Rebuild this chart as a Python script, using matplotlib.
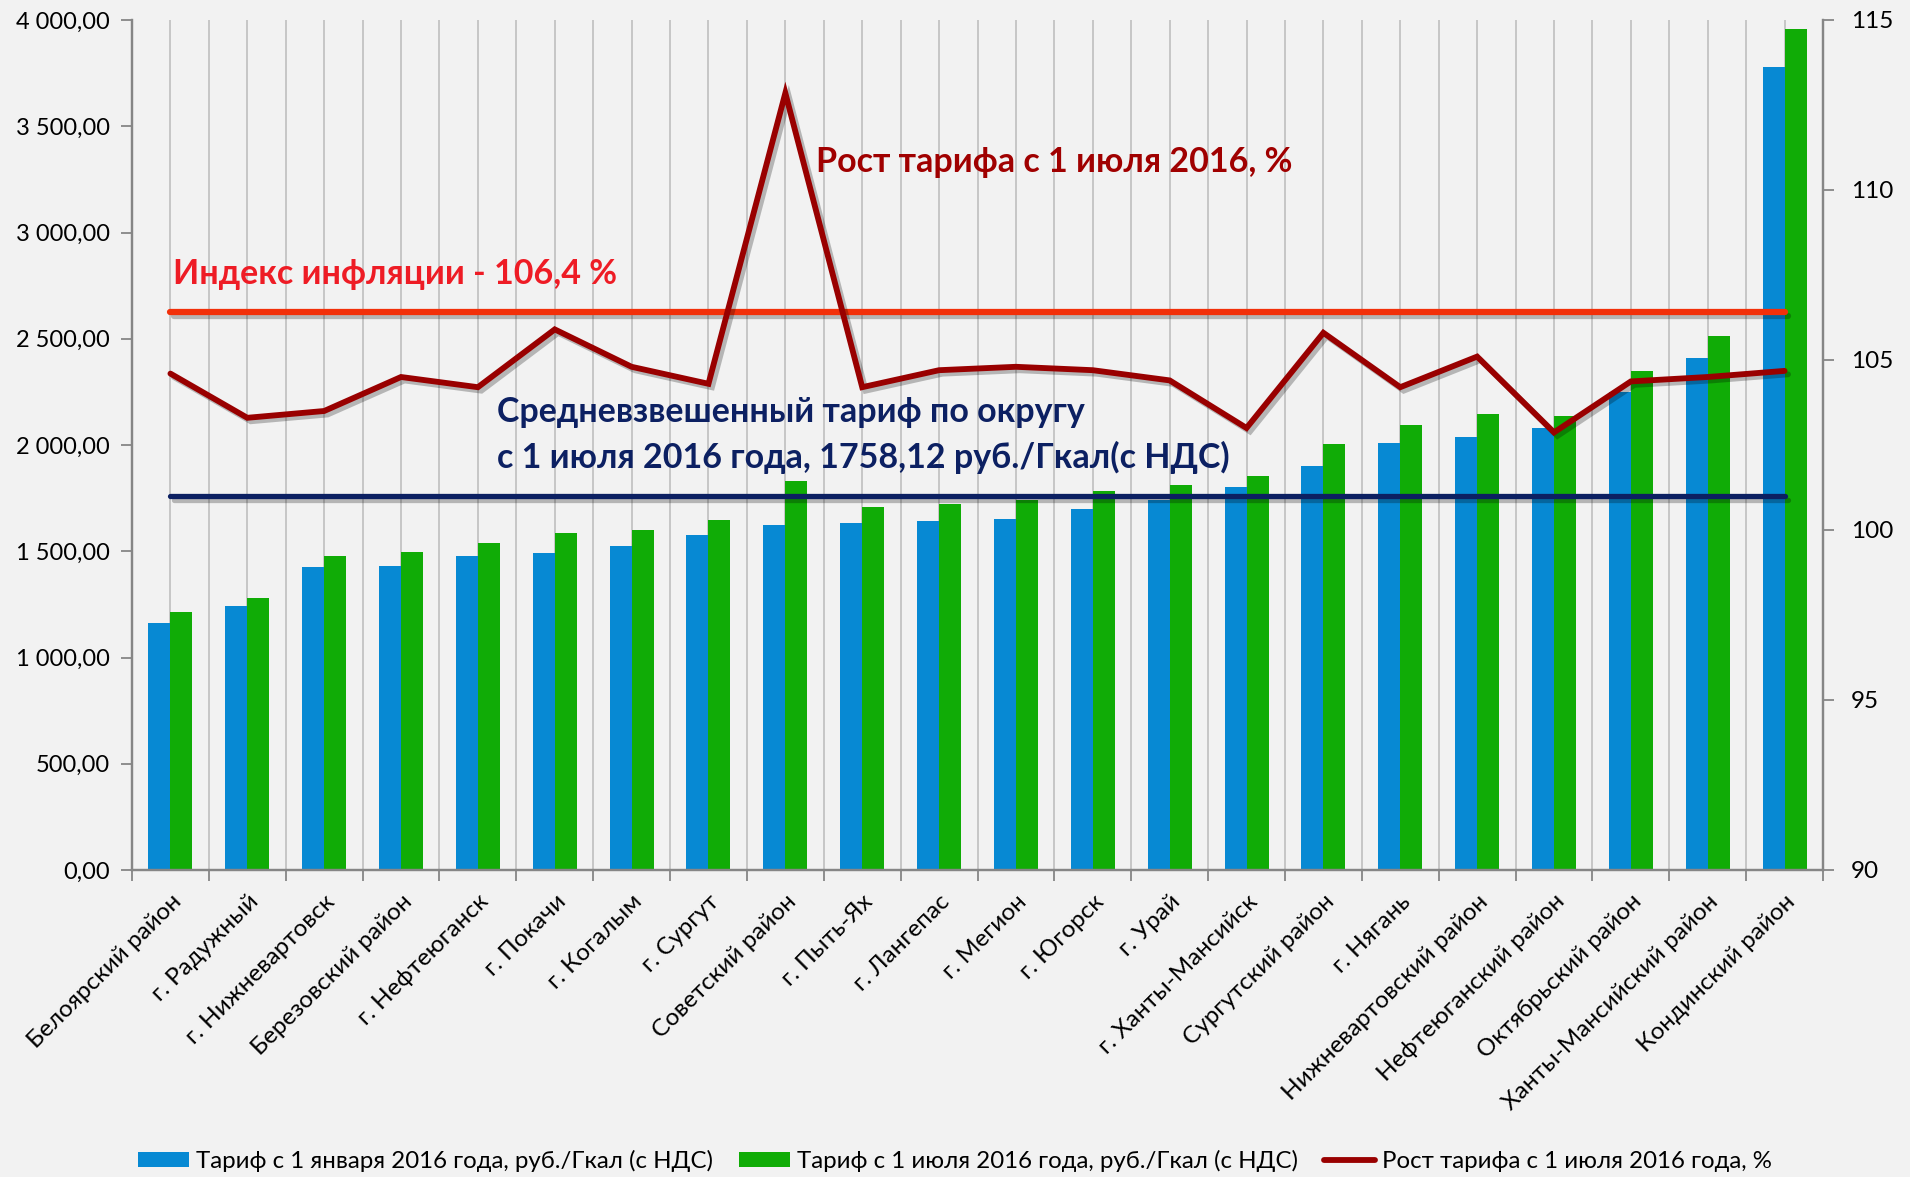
#!/usr/bin/env python3
"""Heat tariffs by municipality: Jan vs Jul 2016, with tariff growth line."""

import os

os.environ.setdefault("MPLCONFIGDIR", "/tmp/matplotlib")

import matplotlib

matplotlib.use("Agg")
import matplotlib.pyplot as plt
import matplotlib.patheffects as pe
from matplotlib.lines import Line2D
from matplotlib.patches import Patch
from matplotlib.ticker import FixedLocator, FuncFormatter, MultipleLocator
import numpy as np

CATEGORIES = [
    "Белоярский район", "г. Радужный", "г. Нижневартовск", "Березовский район",
    "г. Нефтеюганск", "г. Покачи", "г. Когалым", "г. Сургут", "Советский район",
    "г. Пыть-Ях", "г. Лангепас", "г. Мегион", "г. Югорск", "г. Урай",
    "г. Ханты-Мансийск", "Сургутский район", "г. Нягань", "Нижневартовский район",
    "Нефтеюганский район", "Октябрьский район", "Ханты-Мансийский район",
    "Кондинский район",
]
TARIFF_JAN = [1162, 1241, 1426, 1431, 1476, 1492, 1527, 1578, 1624, 1635, 1641,
              1653, 1699, 1739, 1802, 1900, 2009, 2038, 2080, 2251, 2408, 3780]
TARIFF_JUL = [1215, 1281, 1476, 1495, 1537, 1584, 1601, 1647, 1831, 1710, 1722,
              1739, 1785, 1813, 1854, 2003, 2094, 2145, 2137, 2348, 2514, 3958]
GROWTH = [104.6, 103.3, 103.5, 104.5, 104.2, 105.9, 104.8, 104.3, 112.85, 104.2, 104.7,
          104.8, 104.7, 104.4, 103.0, 105.8, 104.2, 105.1, 102.87, 104.37, 104.5, 104.68]
INFLATION = 106.4
AVG_TARIFF = 1758.12

LEGEND_LABELS = [
    "Тариф с 1 января 2016 года, руб./Гкал (с НДС)",
    "Тариф с 1 июля 2016 года, руб./Гкал (с НДС)",
    "Рост тарифа с 1 июля 2016 года, %",
]

BLUE = "#0789D3"
GREEN = "#10AC06"
DARK_RED = "#990000"
RED = "#F2300A"
NAVY = "#0C2062"
BG = "#F2F2F2"
GRID = "#BFBFBF"
SPINE = "#868686"

plt.rcParams["font.family"] = ["Lato", "DejaVu Sans"]

W, H = 1910, 1177


def ru_number(value, _pos=None):
    return f"{value:,.2f}".replace(",", " ").replace(".", ",")


fig = plt.figure(figsize=(W / 100, H / 100), dpi=100, facecolor=BG)
ax = fig.add_axes([132 / W, 1 - 870 / H, (1823 - 132) / W, (870 - 20) / H], facecolor=BG)
ax2 = ax.twinx()

x = np.arange(len(CATEGORIES))
bar_w = 0.286
ax.bar(x - bar_w / 2, TARIFF_JAN, bar_w, color=BLUE, zorder=2)
ax.bar(x + bar_w / 2, TARIFF_JUL, bar_w, color=GREEN, zorder=2)

shadow = [pe.SimpleLineShadow(offset=(2.5, -2.5), alpha=0.25, shadow_color="black"), pe.Normal()]
ax.plot([x[0], x[-1]], [AVG_TARIFF, AVG_TARIFF], color=NAVY, lw=3.8,
        solid_capstyle="round", zorder=3, path_effects=shadow)
ax2.plot([x[0], x[-1]], [INFLATION, INFLATION], color=RED, lw=4.5,
         solid_capstyle="round", zorder=3, path_effects=shadow)
ax2.plot(x, GROWTH, color=DARK_RED, lw=4.2, solid_joinstyle="miter",
         solid_capstyle="round", zorder=4, path_effects=shadow)

ax.set_xlim(-0.5, len(CATEGORIES) - 0.5)
ax.set_ylim(0, 4000)
ax2.set_ylim(90, 115)

# category boundaries get tick marks, centres carry the labels
ax.xaxis.set_major_locator(FixedLocator(np.arange(-0.5, len(CATEGORIES), 1.0)))
ax.xaxis.set_minor_locator(FixedLocator(x))
ax.set_xticklabels([], minor=False)
ax.set_xticks(x, CATEGORIES, minor=True)
ax.tick_params(axis="x", which="major", length=8, width=1.3, color=SPINE, direction="out")
ax.tick_params(axis="x", which="minor", length=0, pad=15, labelsize=17.5)
for lbl in ax.get_xticklabels(minor=True):
    lbl.set_rotation(45)
    lbl.set_ha("right")
    lbl.set_va("top")
    lbl.set_rotation_mode("anchor")

ax.grid(axis="x", which="both", color=GRID, lw=1.2)
ax.set_axisbelow(True)

ax.yaxis.set_major_locator(MultipleLocator(500))
ax.yaxis.set_major_formatter(FuncFormatter(ru_number))
ax.tick_params(axis="y", length=8, width=1.3, color=SPINE, pad=8, labelsize=17)
ax2.yaxis.set_major_locator(MultipleLocator(5))
ax2.tick_params(axis="y", length=8, width=1.3, color=SPINE, pad=12, labelsize=17.5)

for a in (ax, ax2):
    a.spines["top"].set_visible(False)
    for side in ("left", "right", "bottom"):
        a.spines[side].set_color(SPINE)
        a.spines[side].set_linewidth(1.6)

fig.text(173 / W, 1 - 274 / H, "Индекс инфляции - 106,4 %", color="#EE1C25",
         fontsize=24.5, fontweight="bold", va="center", ha="left")
fig.text(816 / W, 1 - 162 / H, "Рост тарифа с 1 июля 2016, %", color="#A00000",
         fontsize=24.5, fontweight="bold", va="center", ha="left")
fig.text(497 / W, 1 - 412 / H, "Средневзвешенный тариф по округу", color=NAVY,
         fontsize=24.5, fontweight="bold", va="center", ha="left")
fig.text(497 / W, 1 - 457 / H, "с 1 июля 2016 года, 1758,12 руб./Гкал(с НДС)", color=NAVY,
         fontsize=24.5, fontweight="bold", va="center", ha="left")

handles = [
    Patch(facecolor=BLUE, edgecolor="none"),
    Patch(facecolor=GREEN, edgecolor="none"),
    Line2D([], [], color=DARK_RED, lw=4.2, solid_capstyle="round"),
]
fig.legend(handles, LEGEND_LABELS, loc="center", bbox_to_anchor=(0.5, 1 - 1161 / H),
           ncol=3, frameon=False, fontsize=17.3, handlelength=2.1, handleheight=0.6,
           handletextpad=0.3, columnspacing=1.1)

fig.savefig("out.png", dpi=100, facecolor=BG)
